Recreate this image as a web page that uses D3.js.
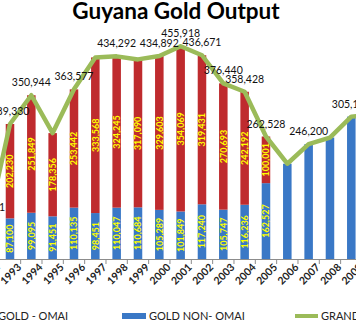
<!DOCTYPE html>
<html><head><meta charset="utf-8">
<script src="https://cdn.jsdelivr.net/npm/d3@7/dist/d3.min.js"></script>
<style>body{margin:0;background:#fff;} svg{display:block}</style>
</head><body>
<svg id="c" width="356" height="330"></svg>
<script>
const years = [1992,1993,1994,1995,1996,1997,1998,1999,2000,2001,2002,2003,2004,2005,2006,2007,2008,2009,2010];
const goldOmai = [0,202230,251849,178356,253442,333568,324245,317090,329603,354069,319431,270693,242192,100001,0,0,0,0,0];
const goldNonOmai = [83181,87100,99095,91451,110135,98451,110047,110684,105289,101849,117240,105747,116236,162527,204172,246200,260309,305126,308263];
const showTotalLabel = [true,true,true,false,true,false,true,false,true,true,true,true,true,true,false,true,false,true,false];
const seriesNames = ["GOLD - OMAI","GOLD NON- OMAI","GRAND TOTAL"];
const title = "Guyana Gold Output";

const colors = {omai:"#BF2B2E", non:"#3A78C6", total:"#9BBB59", seg:"#FFFF00"};
const totals = years.map((d,i)=>goldOmai[i]+goldNonOmai[i]);
const data = years.map((yr,i)=>({yr, omai:goldOmai[i], non:goldNonOmai[i], total:totals[i], show:showTotalLabel[i]}));

const svg = d3.select("#c");
const font = "Lato, 'Open Sans', sans-serif";
const x = d3.scaleBand().domain(years).range([-22, 383.3]).paddingInner(0.6).paddingOuter(0.3);
const y = d3.scaleLinear().domain([0,500000]).range([259, 25.7]);
const bw = x.bandwidth();
const cx = d => x(d) + bw/2;
const fmt = d3.format(",");

// title
svg.append("text").attr("x",176).attr("y",19).attr("text-anchor","middle")
  .attr("font-family",font).attr("font-weight","bold").attr("font-size",22.5).attr("fill","#000").text(title);

// bars
const g = svg.append("g");
g.selectAll("rect.non").data(data).join("rect").attr("class","non")
  .attr("x",d=>x(d.yr)).attr("width",bw)
  .attr("y",d=>y(d.non)).attr("height",d=>y(0)-y(d.non)).attr("fill",colors.non);
g.selectAll("rect.omai").data(data.filter(d=>d.omai>0)).join("rect").attr("class","omai")
  .attr("x",d=>x(d.yr)).attr("width",bw)
  .attr("y",d=>y(d.total)).attr("height",d=>y(d.non)-y(d.total)).attr("fill",colors.omai);

// segment labels
const segData = data.filter(d=>d.omai>0);
g.selectAll("text.lo").data(segData).join("text").attr("class","lo")
  .attr("transform",d=>`translate(${cx(d.yr)+3.2},${(y(d.non)+y(d.total))/2}) rotate(-90)`)
  .attr("text-anchor","middle").attr("font-family",font).attr("font-weight","bold")
  .attr("font-size",9).attr("fill",colors.seg).text(d=>fmt(d.omai));
g.selectAll("text.ln").data(segData).join("text").attr("class","ln")
  .attr("transform",d=>`translate(${cx(d.yr)+3.2},${(y(0)+y(d.non))/2}) rotate(-90)`)
  .attr("text-anchor","middle").attr("font-family",font).attr("font-weight","bold")
  .attr("font-size",9).attr("fill",colors.seg).text(d=>fmt(d.non));

// axis
const axis = d3.axisBottom(x).tickSize(0).tickSizeOuter(0).tickFormat(d=>String(d));
const ax = svg.append("g").attr("transform","translate(0,259)").call(axis);
ax.select(".domain").attr("stroke","#8c8c8c");
ax.selectAll(".tick text").attr("x",0).attr("y",0).attr("dy",0)
  .attr("text-anchor","end").attr("transform","translate(12,9) rotate(-45)")
  .attr("font-family",font).attr("font-weight","bold").attr("font-size",10.5).attr("fill","#222");
ax.selectAll("line.bt").data(years).join("line").attr("class","bt")
  .attr("x1",d=>x(d)-x.step()*x.paddingInner()/2).attr("x2",d=>x(d)-x.step()*x.paddingInner()/2)
  .attr("y1",0).attr("y2",5).attr("stroke","#8c8c8c");

// total line
const line = d3.line().x(d=>cx(d.yr)).y(d=>y(d.total));
svg.append("path").datum(data).attr("d",line).attr("fill","none")
  .attr("stroke",colors.total).attr("stroke-width",4.5).attr("stroke-linejoin","round");

// total labels
svg.selectAll("text.tot").data(data.filter(d=>d.show)).join("text").attr("class","tot")
  .attr("x",d=>cx(d.yr)).attr("y",d=>y(d.total)-9).attr("text-anchor","middle")
  .attr("font-family",font).attr("font-size",10.5).attr("fill","#111").text(d=>fmt(d.total));

// legend
const lg = svg.append("g").attr("font-family",font).attr("font-size",11).attr("fill","#222");
lg.append("rect").attr("x",-52).attr("y",313).attr("width",24).attr("height",6).attr("fill",colors.omai);
lg.append("text").attr("x",-2).attr("y",320).text(seriesNames[0]);
lg.append("rect").attr("x",122).attr("y",313).attr("width",24).attr("height",6).attr("fill",colors.non);
lg.append("text").attr("x",149).attr("y",320).text(seriesNames[1]);
lg.append("line").attr("x1",295).attr("x2",318).attr("y1",316).attr("y2",316).attr("stroke",colors.total).attr("stroke-width",4);
lg.append("text").attr("x",321).attr("y",320).text(seriesNames[2]);
</script>
</body></html>
